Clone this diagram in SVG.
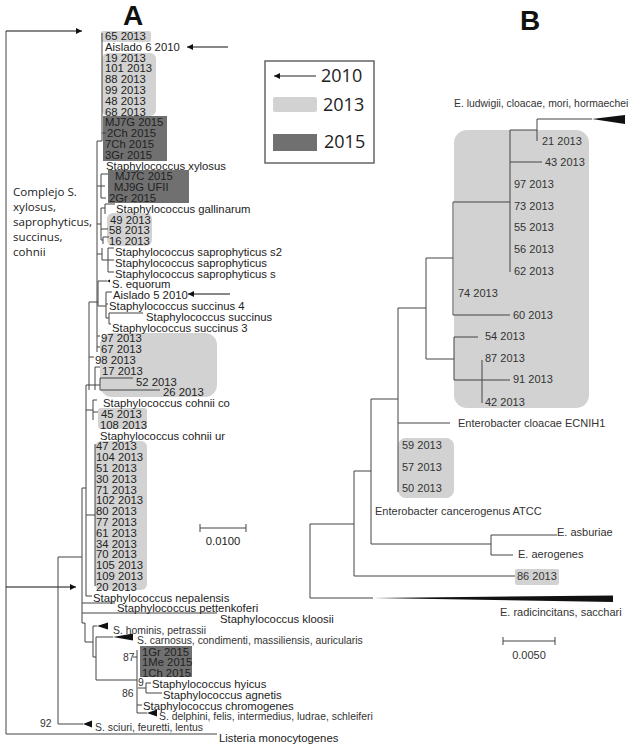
<svg xmlns="http://www.w3.org/2000/svg" width="636" height="749" viewBox="0 0 636 749">
<style>
.t{font-family:"Liberation Sans",Arial,sans-serif;font-size:11.3px;fill:#222}
.c{font-family:"Liberation Sans",Arial,sans-serif;font-size:10.4px;fill:#333}
.b{font-family:"Liberation Sans",Arial,sans-serif;font-size:11px;fill:#333}
.ln{stroke:#444;stroke-width:1;fill:none}
.lt{fill:#d2d2d2}
.dk{fill:#707070}
.tri{fill:#111}
.big{font-family:"Liberation Sans",Arial,sans-serif;font-size:28px;font-weight:bold;fill:#111}
.lg{font-family:"Open Sans",sans-serif;font-size:18px;fill:#222}
.cx{font-family:"Open Sans",sans-serif;font-size:11.6px;fill:#222}
</style>
<defs>
<marker id="ah" viewBox="0 0 10 10" refX="10" refY="5" markerWidth="7" markerHeight="6" orient="auto" markerUnits="userSpaceOnUse">
<path d="M0,0 L10,5 L0,10 z" fill="#111"/>
</marker>
</defs>
<rect width="636" height="749" fill="#fff"/>

<g id="panel-labels">
<text class="big" x="133" y="25" text-anchor="middle">A</text>
<text class="big" x="530" y="30" text-anchor="middle">B</text>
</g>

<g id="legend">
<rect x="265" y="61" width="109" height="102" fill="#fff" stroke="#666" stroke-width="1.5"/>
<line x1="316" y1="76" x2="274" y2="76" stroke="#222" stroke-width="1" marker-end="url(#ah)"/>
<text class="lg" x="321" y="82">2010</text>
<rect x="273" y="97" width="44" height="15" rx="2" class="lt"/>
<text class="lg" x="323" y="111">2013</text>
<rect x="273" y="134" width="44" height="17" class="dk"/>
<text class="lg" x="324" y="148">2015</text>
</g>

<g id="highlights-A">
<rect x="101" y="31" width="50" height="11" rx="2" class="lt"/>
<rect x="102" y="53" width="54" height="63" rx="6" class="lt"/>
<rect x="103" y="116" width="64" height="45" class="dk"/>
<rect x="108" y="170" width="81" height="33" class="dk"/>
<rect x="107" y="213" width="45" height="33" rx="6" class="lt"/>
<rect x="100" y="333" width="117" height="64" rx="12" class="lt"/>
<rect x="98" y="408" width="49" height="21" rx="3" class="lt"/>
<rect x="95" y="441" width="52" height="149" rx="6" class="lt"/>
<rect x="140" y="646" width="52" height="31" class="dk"/>
</g>

<g id="connectors-A">
<path class="ln" d="M6,31 V734 H217"/>
<line x1="6" y1="31" x2="82" y2="31" stroke="#111" marker-end="url(#ah)"/>
<line x1="6" y1="587" x2="76" y2="587" stroke="#111" marker-end="url(#ah)"/>
<line x1="228" y1="47" x2="187" y2="47" stroke="#111" marker-end="url(#ah)"/>
<line x1="230" y1="294" x2="188" y2="294" stroke="#111" marker-end="url(#ah)"/>
<path class="ln" d="M102,33 V141 M102,133 H106 M97,141 H102 M97,141 V352"/>
<path class="ln" d="M101,174 V198 M101,174 H108 M101,186 H105 M101,198 H106 M97,186 H101"/>
<path class="ln" d="M101,208 V240 M97,224 H101 M101,208 H105 M105,204 V214 M105,204 H115 M101,229 H108 M103,237 V244 M101,240 H103 M103,237 H109"/>
<path class="ln" d="M108,248 V272 M108,248 H114 M108,260 H114 M108,272 H114 M102,260 H108 M102,248 V260 M97,254 H102"/>
<path class="ln" d="M98,281 H107 M98,281 V306"/>
<path class="ln" d="M106,292 V318 M106,292 H112 M106,304 H108 M98,306 H106 M106,318 H109 M109,313 V324 M109,313 H143 M109,324 H111"/>
<path class="ln" d="M97,336 H100 M97,347 H100 M89,302 H98 M89,302 V390 M89,357 H94"/>
<path class="ln" d="M95,367 V390 M95,367 H100 M100,378 V390 M100,378 H133 M100,390 H160 M95,385 H100 M86,385 H95"/>
<path class="ln" d="M86,385 V596 M93,400 H97 M93,400 V420 M86,410 H93 M93,412 H98"/>
<path class="ln" d="M95,444 V586 M86,515 H95 M86,596 H92"/>
<path class="ln" d="M82,488 V623 M82,488 H86 M82,603 H115 M82,613 H217 M82,623 H85 M85,623 V642 M85,642 H93"/>
<path class="ln" d="M93,626 V657 M93,626 H97 M93,657 H96 M96,637 V680 M96,637 H113 M96,680 H137"/>
<path class="ln" d="M137,650 V713 M133,657 H137 M137,713 H147 M137,705 H142 M138,688 H146 M146,683 V693 M146,683 H151 M146,693 H162"/>
<path class="ln" d="M58,557 V724 M58,557 H82 M58,724 H83"/>
<polygon class="tri" points="97,626 108,622.5 108,629.5"/>
<polygon class="tri" points="113,637 133,633.5 133,640.5"/>
<polygon class="tri" points="147,713 157,709.5 157,716.5"/>
<polygon class="tri" points="83,724 92,720.5 92,727.5"/>
<polygon class="tri" points="107,281 110,279.5 110,282.5"/>
</g>

<g id="labels-A">
<text class="t" x="105" y="40">65 2013</text>
<text class="t" x="105" y="50.8">Aislado 6 2010</text>
<text class="t" x="105" y="61.6">19 2013</text>
<text class="t" x="105" y="72.4">101 2013</text>
<text class="t" x="105" y="83.2">88 2013</text>
<text class="t" x="105" y="94">99 2013</text>
<text class="t" x="105" y="104.8">48 2013</text>
<text class="t" x="105" y="115.6">68 2013</text>
<text class="t" x="105" y="126.4">MJ7G 2015</text>
<text class="t" x="107" y="137.2">2Ch 2015</text>
<text class="t" x="105" y="148">7Ch 2015</text>
<text class="t" x="105" y="158.8">3Gr 2015</text>
<text class="t" x="106" y="169.6">Staphylococcus xylosus</text>
<text class="t" x="115" y="180.4">MJ7C 2015</text>
<text class="t" x="114" y="191.2">MJ9G UFII</text>
<text class="t" x="109" y="202">2Gr 2015</text>
<text class="t" x="116" y="212.8">Staphylococcus gallinarum</text>
<text class="t" x="110" y="223.6">49 2013</text>
<text class="t" x="109" y="234.4">58 2013</text>
<text class="t" x="109" y="245.2">16 2013</text>
<text class="t" x="115" y="256">Staphylococcus saprophyticus s2</text>
<text class="t" x="115" y="266.8">Staphylococcus saprophyticus</text>
<text class="t" x="115" y="277.6">Staphylococcus saprophyticus s</text>
<text class="t" x="112" y="288.4">S. equorum</text>
<text class="t" x="113" y="299.2">Aislado 5 2010</text>
<text class="t" x="109" y="310">Staphylococcus succinus 4</text>
<text class="t" x="146" y="320.8">Staphylococcus succinus</text>
<text class="t" x="112" y="331.6">Staphylococcus succinus 3</text>
<text class="t" x="101" y="342.4">97 2013</text>
<text class="t" x="101" y="353.2">67 2013</text>
<text class="t" x="95" y="364">98 2013</text>
<text class="t" x="102" y="374.8">17 2013</text>
<text class="t" x="136" y="385.6">52 2013</text>
<text class="t" x="163" y="396.4">26 2013</text>
<text class="t" x="103" y="407.2">Staphylococcus cohnii co</text>
<text class="t" x="101" y="418">45 2013</text>
<text class="t" x="100" y="428.8">108 2013</text>
<text class="t" x="100" y="439.6">Staphylococcus cohnii ur</text>
<text class="t" x="96" y="450.4">47 2013</text>
<text class="t" x="96" y="461.2">104 2013</text>
<text class="t" x="96" y="472">51 2013</text>
<text class="t" x="96" y="482.8">30 2013</text>
<text class="t" x="96" y="493.6">71 2013</text>
<text class="t" x="96" y="504.4">102 2013</text>
<text class="t" x="96" y="515.2">80 2013</text>
<text class="t" x="96" y="526">77 2013</text>
<text class="t" x="96" y="536.8">61 2013</text>
<text class="t" x="96" y="547.6">34 2013</text>
<text class="t" x="96" y="558.4">70 2013</text>
<text class="t" x="96" y="569.2">105 2013</text>
<text class="t" x="96" y="580">109 2013</text>
<text class="t" x="96" y="590.8">20 2013</text>
<text class="t" x="93" y="601.6">Staphylococcus nepalensis</text>
<text class="t" x="117" y="612.4">Staphylococcus pettenkoferi</text>
<text class="t" x="220" y="623.2">Staphylococcus kloosii</text>
<text class="c" x="113" y="633.5">S. hominis, petrassii</text>
<text class="c" x="137" y="644.3">S. carnosus, condimenti, massiliensis, auricularis</text>
<text class="t" x="142" y="655.6">1Gr 2015</text>
<text class="t" x="142" y="666.4">1Me 2015</text>
<text class="t" x="142" y="677.2">1Ch 2015</text>
<text class="t" x="152" y="688">Staphylococcus hyicus</text>
<text class="t" x="163" y="698.8">Staphylococcus agnetis</text>
<text class="t" x="143" y="709.6">Staphylococcus chromogenes</text>
<text class="c" x="159" y="719.9">S. delphini, felis, intermedius, ludrae, schleiferi</text>
<text class="c" x="95" y="730.7">S. sciuri, feuretti, lentus</text>
<text class="t" x="219" y="742">Listeria monocytogenes</text>
<text class="c" x="123" y="661">87</text>
<text class="c" x="138" y="686">9</text>
<text class="c" x="122" y="697">86</text>
<text class="c" x="40" y="727">92</text>
<text class="cx" x="13" y="196">Complejo S.</text>
<text class="cx" x="13" y="211">xylosus,</text>
<text class="cx" x="13" y="226">saprophyticus,</text>
<text class="cx" x="13" y="241">succinus,</text>
<text class="cx" x="13" y="256">cohnii</text>
</g>

<g id="scale-A">
<path class="ln" d="M200,528 H246 M200,524 V532 M246,524 V532"/>
<text class="t" x="223" y="545" text-anchor="middle">0.0100</text>
</g>

<g id="highlights-B">
<rect x="454" y="130" width="135" height="278" rx="13" class="lt"/>
<rect x="398" y="438" width="56" height="60" rx="8" class="lt"/>
<rect x="515" y="569" width="44" height="16" rx="2" class="lt"/>
</g>

<g id="connectors-B">
<path class="ln" d="M537,119 H592 M537,119 V141 M510,130 H537 M510,130 V272 M510,162 H542"/>
<path class="ln" d="M453,202 H510 M453,202 V315 M453,315 H510 M426,258 H453 M426,258 V359 M426,359 H454 M454,337 V380 M454,337 H478 M454,380 H510 M482,360 V403"/>
<path class="ln" d="M398,308 H426 M398,308 V492 M398,423 H450 M371,399 H398 M371,399 V544 M371,544 H491 M491,535 V555 M491,535 H557 M491,555 H513"/>
<path class="ln" d="M354,471 H371 M354,471 V576 M354,576 H515 M310,524 H354 M310,524 V598 M310,598 H373"/>
<polygon class="tri" points="592,119 625,115 625,124"/>
<polygon class="tri" points="373,598 613,595.5 613,602"/>
</g>

<g id="labels-B">
<text class="b" x="454" y="107" style="font-size:10.4px">E. ludwigii, cloacae, mori, hormaechei</text>
<text class="b" x="542" y="145">21 2013</text>
<text class="b" x="545" y="166">43 2013</text>
<text class="b" x="514" y="188">97 2013</text>
<text class="b" x="514" y="210">73 2013</text>
<text class="b" x="514" y="231">55 2013</text>
<text class="b" x="514" y="253">56 2013</text>
<text class="b" x="514" y="275">62 2013</text>
<text class="b" x="458" y="297">74 2013</text>
<text class="b" x="513" y="319">60 2013</text>
<text class="b" x="485" y="340">54 2013</text>
<text class="b" x="485" y="362">87 2013</text>
<text class="b" x="513" y="383">91 2013</text>
<text class="b" x="485" y="406">42 2013</text>
<text class="b" x="458" y="427">Enterobacter cloacae ECNIH1</text>
<text class="b" x="402" y="449">59 2013</text>
<text class="b" x="402" y="471">57 2013</text>
<text class="b" x="402" y="492">50 2013</text>
<text class="b" x="375" y="515">Enterobacter cancerogenus ATCC</text>
<text class="b" x="557" y="536">E. asburiae</text>
<text class="b" x="518" y="558">E. aerogenes</text>
<text class="b" x="517" y="580">86 2013</text>
<text class="b" x="500" y="616">E. radicincitans, sacchari</text>
</g>

<g id="scale-B">
<path class="ln" d="M503,641 H555 M503,637 V645 M555,637 V645"/>
<text class="b" x="529" y="659" text-anchor="middle">0.0050</text>
</g>
</svg>
